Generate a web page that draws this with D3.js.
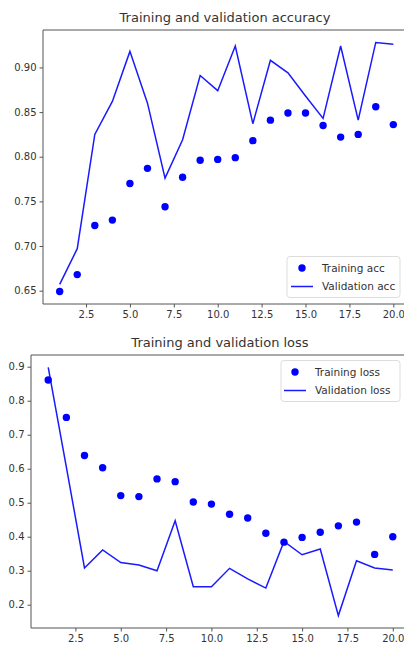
<!DOCTYPE html>
<html>
<head>
<meta charset="utf-8">
<script src="https://cdn.jsdelivr.net/npm/d3@7"></script>
<style>
  body { margin: 0; background: #fff; }
  svg text { font-family: "DejaVu Sans", sans-serif; fill: #333; }
</style>
</head>
<body>
<div id="chart"></div>
<script>
// Epochs and history values
const epochs = d3.range(1, 21);
const trainAcc = [0.649, 0.668, 0.723, 0.729, 0.770, 0.787, 0.744, 0.777, 0.796, 0.797,
                  0.799, 0.818, 0.841, 0.849, 0.849, 0.835, 0.822, 0.825, 0.856, 0.836];
const valAcc = [0.657, 0.697, 0.825, 0.862, 0.918, 0.860, 0.776, 0.819, 0.891, 0.874,
                0.924, 0.837, 0.908, 0.894, 0.868, 0.843, 0.924, 0.841, 0.928, 0.926];
const trainLoss = [0.861, 0.751, 0.639, 0.603, 0.521, 0.518, 0.570, 0.562, 0.502, 0.496,
                   0.466, 0.455, 0.410, 0.384, 0.398, 0.413, 0.432, 0.443, 0.348, 0.400];
const valLoss = [0.898, 0.605, 0.308, 0.361, 0.324, 0.317, 0.300, 0.447, 0.253, 0.253,
                 0.307, 0.276, 0.249, 0.386, 0.347, 0.364, 0.168, 0.329, 0.308, 0.302];

const xTicks = [2.5, 5.0, 7.5, 10.0, 12.5, 15.0, 17.5, 20.0];
const accTicks = [0.65, 0.70, 0.75, 0.80, 0.85, 0.90];
const lossTicks = [0.2, 0.3, 0.4, 0.5, 0.6, 0.7, 0.8, 0.9];

const svg = d3.select("#chart").append("svg")
  .attr("width", 404)
  .attr("height", 652);

// matplotlib style 5% padding on both ends
function padded(vals) {
  const [lo, hi] = d3.extent(vals);
  const m = (hi - lo) * 0.05;
  return [lo - m, hi + m];
}

function panel(opt) {
  const x = d3.scaleLinear().domain(padded(epochs)).range([opt.left, opt.right]);
  const y = d3.scaleLinear().domain(padded(opt.train.concat(opt.val))).range([opt.bottom, opt.top]);
  const g = svg.append("g");

  // title
  g.append("text")
    .attr("x", opt.titleX)
    .attr("y", opt.top - 8)
    .attr("text-anchor", "middle")
    .style("font-size", "13px")
    .text(opt.title);

  // validation line
  g.append("path")
    .datum(epochs)
    .attr("fill", "none")
    .attr("stroke", "#1a1aff")
    .attr("stroke-width", 1.5)
    .attr("d", d3.line().x(d => x(d)).y((d, i) => y(opt.val[i])));

  // training dots
  g.selectAll(".dot")
    .data(epochs)
    .join("circle")
    .attr("cx", d => x(d))
    .attr("cy", (d, i) => y(opt.train[i]))
    .attr("r", 3.7)
    .attr("fill", "#0000ff");

  // axes
  const xAxis = g.append("g")
    .attr("transform", `translate(0, ${opt.bottom})`)
    .call(d3.axisBottom(x).tickValues(xTicks).tickFormat(d3.format(".1f")).tickSize(3.5).tickPadding(3));
  const yAxis = g.append("g")
    .attr("transform", `translate(${opt.left}, 0)`)
    .call(d3.axisLeft(y).tickValues(opt.yTicks).tickFormat(d3.format(opt.yFmt)).tickSize(3.5).tickPadding(3));
  [xAxis, yAxis].forEach(a => {
    a.select(".domain").remove();
    a.selectAll(".tick line").attr("stroke", "#555");
    a.selectAll(".tick text").style("font-size", "10px").attr("fill", "#444");
  });

  // spines (left, bottom, top; right one is cut off by the picture edge)
  g.append("path")
    .attr("d", `M${opt.right},${opt.top}H${opt.left}V${opt.bottom}H${opt.right}`)
    .attr("fill", "none")
    .attr("stroke", "#555")
    .attr("stroke-width", 1);

  // legend
  const lg = g.append("g").attr("transform", `translate(${opt.legX}, ${opt.legY})`);
  lg.append("rect")
    .attr("width", opt.legW).attr("height", 41)
    .attr("rx", 3)
    .attr("fill", "#fff").attr("fill-opacity", 0.85)
    .attr("stroke", "#ddd");
  lg.append("circle").attr("cx", opt.legMark).attr("cy", 11.5).attr("r", 3.7).attr("fill", "#0000ff");
  lg.append("line")
    .attr("x1", opt.legMark - 11).attr("x2", opt.legMark + 11)
    .attr("y1", 30).attr("y2", 30)
    .attr("stroke", "#1a1aff").attr("stroke-width", 1.5);
  lg.append("text").attr("x", opt.legText).attr("y", 11.5).attr("dy", "0.35em")
    .style("font-size", "10.5px").text(opt.names[0]);
  lg.append("text").attr("x", opt.legText).attr("y", 30).attr("dy", "0.35em")
    .style("font-size", "10.5px").text(opt.names[1]);
}

panel({
  title: "Training and validation accuracy", titleX: 225,
  left: 43, right: 410, top: 30, bottom: 304,
  train: trainAcc, val: valAcc, yTicks: accTicks, yFmt: ".2f",
  names: ["Training acc", "Validation acc"],
  legX: 287, legY: 256.5, legW: 113, legMark: 15, legText: 35
});

panel({
  title: "Training and validation loss", titleX: 220,
  left: 31, right: 410, top: 355, bottom: 628,
  train: trainLoss, val: valLoss, yTicks: lossTicks, yFmt: ".1f",
  names: ["Training loss", "Validation loss"],
  legX: 281, legY: 360.5, legW: 119, legMark: 14, legText: 34
});
</script>
</body>
</html>
